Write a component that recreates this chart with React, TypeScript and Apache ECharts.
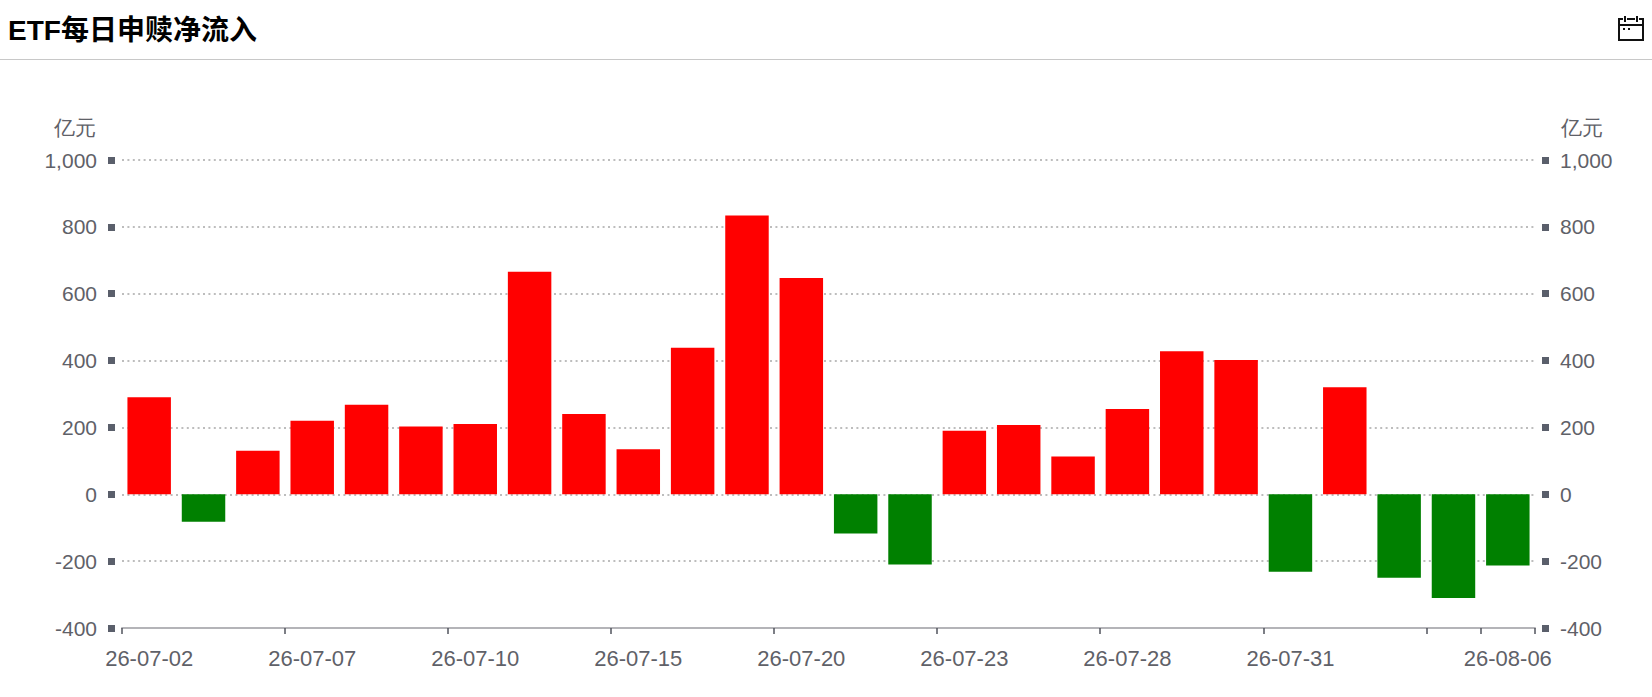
import React, { useEffect, useRef } from "react";
import * as echarts from "echarts";

const dates = ["26-07-02","26-07-03","26-07-06","26-07-07","26-07-08","26-07-09","26-07-10","26-07-13","26-07-14","26-07-15","26-07-16","26-07-17","26-07-20","26-07-21","26-07-22","26-07-23","26-07-24","26-07-27","26-07-28","26-07-29","26-07-30","26-07-31","26-08-03","26-08-04","26-08-05","26-08-06"];
const flows = [290,-82,130,220,268,203,210,666,240,135,438,834,647,-117,-210,190,207,113,255,428,402,-232,320,-250,-310,-213];
const TITLE = "ETF每日申赎净流入";
const UNIT = "亿元";
const POSITIVE = "#ff0000";
const NEGATIVE = "#008000";
const TEXT = "#5f6168";

echarts.graphic.registerShape(
  "calIcon",
  echarts.graphic.extendPath(
    "M5 3L1 3L1 24L25 24L25 3L21 3M9 3L17 3M7 0L7 6M19 0L19 6M1 9L25 9M5 13L7 13M10 13L12 13",
    {}
  ) as any
);

export default function App() {
  const ref = useRef<HTMLDivElement>(null);
  useEffect(() => {
    document.body.style.margin = "0";
    const chart = echarts.init(ref.current!, undefined, { renderer: "svg" });
    const yAxisCommon = {
      type: "value",
      min: -400,
      max: 1000,
      interval: 200,
      offset: 7,
      name: UNIT,
      nameLocation: "end",
      nameGap: 22,
      axisLine: { show: false },
      axisTick: { show: true, length: 7, lineStyle: { color: "#5a5f6b", width: 7 } },
    };
    const labelStyle = { color: TEXT, fontSize: 21, fontFamily: "Liberation Sans" };
    chart.setOption({
      animation: false,
      grid: { left: 122, right: 117, top: 160, bottom: 69, containLabel: false },
      title: {
        text: TITLE,
        left: 8,
        top: 16,
        padding: 0,
        textStyle: { color: "#000", fontSize: 28, fontWeight: "bold", fontFamily: "Liberation Sans, Noto Sans CJK SC" },
      },
      graphic: [
        { type: "line", shape: { x1: 0, y1: 59.5, x2: 1652, y2: 59.5 }, style: { stroke: "#c8c8c8", lineWidth: 1 } },
        { type: "calIcon", x: 1618, y: 16, style: { stroke: "#111", lineWidth: 2, fill: "none" } },
      ],
      xAxis: {
        type: "category",
        data: dates,
        axisLine: { onZero: false, lineStyle: { color: "#b4b4b8", width: 2 } },
        axisTick: {
          show: true,
          length: 6,
          lineStyle: { color: "#50535c", width: 1.5 },
          interval: (i: number) => i % 3 === 0 || i === dates.length - 1,
        },
        axisLabel: {
          ...labelStyle,
          fontSize: 22,
          margin: 19,
          interval: (i: number) => (i % 3 === 0 && i !== 24) || i === dates.length - 1,
        },
        splitLine: { show: false },
      },
      yAxis: [
        {
          ...yAxisCommon,
          position: "left",
          nameTextStyle: { ...labelStyle, align: "right", padding: [0, 19, 0, 0] },
          axisLabel: { ...labelStyle, margin: 18, formatter: (v: number) => v.toLocaleString("en-US") },
          splitLine: { show: true, lineStyle: { color: "#a8a8a8", width: 1.5, type: [2, 3.4] } },
        },
        {
          ...yAxisCommon,
          position: "right",
          nameTextStyle: { ...labelStyle, align: "left", padding: [0, 0, 0, 19] },
          axisLabel: { ...labelStyle, margin: 18, formatter: (v: number) => v.toLocaleString("en-US") },
          splitLine: { show: false },
        },
      ],
      series: [
        {
          type: "bar",
          barWidth: "80%",
          data: flows.map((v) => ({ value: v, itemStyle: { color: v >= 0 ? POSITIVE : NEGATIVE } })),
        },
      ],
    });
    return () => chart.dispose();
  }, []);
  return <div ref={ref} style={{ width: 1652, height: 697 }} />;
}
